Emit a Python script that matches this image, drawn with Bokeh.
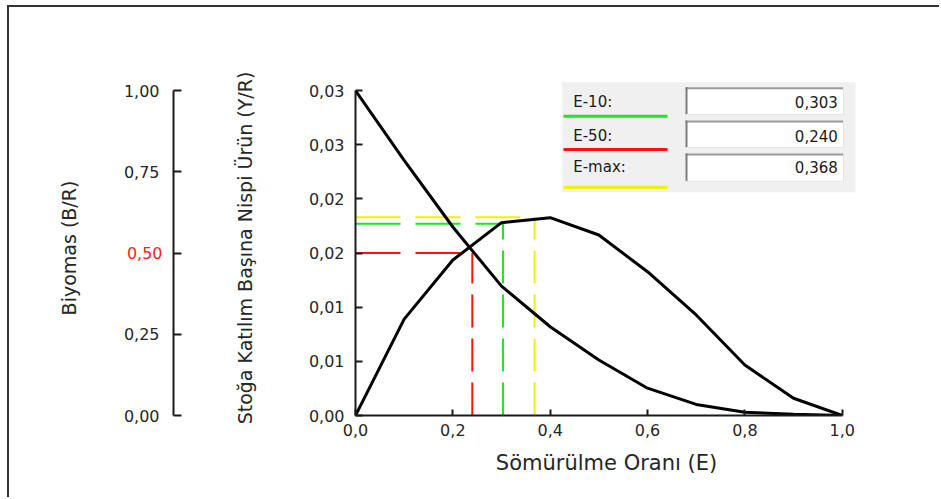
from bokeh.plotting import figure
from bokeh.models import (Range1d, LinearAxis, FixedTicker, CustomJSTickFormatter,
                          Label, BoxAnnotation)
from bokeh.core.properties import value
from bokeh.embed import file_html
from bokeh.resources import INLINE

# ---------------- data ----------------
e_grid = [0.0, 0.1, 0.2, 0.3, 0.4, 0.5, 0.6, 0.7, 0.8, 0.9, 1.0]
yr_values = [0.0, 0.0089, 0.01435, 0.0178, 0.01826, 0.01666, 0.01327, 0.00928, 0.00466, 0.00159, 0.0]
br_values = [1.0, 0.785, 0.58, 0.398, 0.273, 0.171, 0.084, 0.034, 0.010, 0.004, 0.0]

ref_names = ["E-10:", "E-50:", "E-max:"]
ref_e = [0.303, 0.240, 0.368]
ref_texts = ["0,303", "0,240", "0,368"]
ref_colors = ["#1fe41f", "#ff1010", "#f2f200"]
yr_at_e10 = 0.0177
yr_at_emax = 0.0183
br_at_e50 = 0.5

x_ticks = [0.0, 0.2, 0.4, 0.6, 0.8, 1.0]
x_tick_labels = ["0,0", "0,2", "0,4", "0,6", "0,8", "1,0"]
yr_ticks = [0.0, 0.005, 0.01, 0.015, 0.02, 0.025, 0.03]
yr_tick_labels = ["0,00", "0,01", "0,01", "0,02", "0,02", "0,03", "0,03"]
br_ticks = [0.0, 0.25, 0.5, 0.75, 1.0]
br_tick_labels = ["0,00", "0,25", "0,50", "0,75", "1,00"]
br_highlight = 0.5

x_title = "Sömürülme Oranı (E)"
yr_title = "Stoğa Katılım Başına Nispi Ürün (Y/R)"
br_title = "Biyomas (B/R)"

# ---------------- layout (page pixels) ----------------
OX, OY = 9, 7                      # canvas origin on the page (after css border)
FRAME_L, FRAME_R, FRAME_T, FRAME_B = 355, 857, 80, 415
PX_PER_E = 486.7
PX_PER_YR = 325 / 0.03
YR_TOP = 0.03

W, H = 941 - OX, 499 - OY
x_end = (FRAME_R - FRAME_L) / PX_PER_E
y_end = (FRAME_B - FRAME_T) / PX_PER_YR
br_end = y_end / YR_TOP


def ex(px):
    return (px - FRAME_L) / PX_PER_E


def ey(py):
    return (FRAME_B - py) / PX_PER_YR


FONT = "DejaVu Sans"
TXT = "#262626"


def fmt(tick_values, tick_texts):
    return CustomJSTickFormatter(
        args=dict(tv=tick_values, tl=tick_texts),
        code="""
        for (let i = 0; i < tv.length; i++) {
            if (Math.abs(tv[i] - tick) < 1e-9) return tl[i];
        }
        return "";
        """)


p = figure(width=W, height=H, x_range=Range1d(0, x_end), y_range=Range1d(0, y_end),
           output_backend="svg", toolbar_location=None,
           min_border_left=FRAME_L - OX, min_border_right=W - (FRAME_R - OX),
           min_border_top=FRAME_T - OY, min_border_bottom=H - (FRAME_B - OY),
           background_fill_color="white", border_fill_color="white",
           outline_line_color=None,
           styles={"margin-left": "7px", "margin-top": "5px",
                   "border-left": "2px solid #333333", "border-top": "2px solid #333333"})
p.grid.visible = False
p.extra_y_ranges = {"bio": Range1d(0, br_end)}

# x axis
xa = p.xaxis[0]
xa.ticker = FixedTicker(ticks=x_ticks)
xa.formatter = fmt(x_ticks, x_tick_labels)
xa.bounds = (0, 1)
xa.axis_label = x_title

# Y/R axis (default, innermost)
ya = p.yaxis[0]
ya.ticker = FixedTicker(ticks=yr_ticks)
ya.formatter = fmt(yr_ticks, yr_tick_labels)
ya.bounds = (0, YR_TOP)
ya.axis_label = yr_title

# invisible spacer between the two left axes (white label, no line)
spacer = LinearAxis(y_range_name="bio", ticker=FixedTicker(ticks=[0.1]),
                    formatter=fmt([0.1], ["0,00"]),
                    axis_line_color=None, major_tick_in=0, major_tick_out=0,
                    minor_tick_in=0, minor_tick_out=0, major_tick_line_color=None,
                    major_label_text_color="white", major_label_text_font=FONT,
                    major_label_text_font_size="16px", major_label_standoff=18)
p.add_layout(spacer, "left")

# Biomass axis (the highlighted 0,50 label is drawn in red separately)
hi_label = br_tick_labels[br_ticks.index(br_highlight)]
bio_axis_labels = ["" if t == br_highlight else s for t, s in zip(br_ticks, br_tick_labels)]
ba = LinearAxis(y_range_name="bio", ticker=FixedTicker(ticks=br_ticks),
                formatter=fmt(br_ticks, bio_axis_labels), bounds=(0, 1),
                axis_label=br_title)
p.add_layout(ba, "left")

for ax in [xa, ya, ba]:
    ax.axis_line_color = "#1a1a1a"
    ax.axis_line_width = 2
    ax.major_tick_line_color = "#1a1a1a"
    ax.major_tick_line_width = 2
    ax.major_tick_out = 0
    ax.minor_tick_in = 0
    ax.minor_tick_out = 0
    ax.major_label_text_font = FONT
    ax.major_label_text_font_size = "16px"
    ax.major_label_text_color = TXT
    ax.axis_label_text_font = FONT
    ax.axis_label_text_font_style = "normal"
    ax.axis_label_text_color = TXT

xa.major_tick_in = 6
xa.major_label_standoff = 8
xa.axis_label_standoff = 12
xa.axis_label_text_font_size = "21px"

ya.major_tick_in = 7
ya.major_label_standoff = 11
ya.axis_label_standoff = 50
ya.axis_label_text_font_size = "19px"

ba.major_tick_in = 8
ba.major_label_standoff = 14
ba.axis_label_standoff = 41
ba.axis_label_text_font_size = "19px"

# red label and red tick for 0,50 of the biomass axis, in the left side panel
p.add_layout(Label(x=ex(162), y=br_highlight, y_range_name="bio", text=hi_label,
                   text_align="right", text_baseline="middle", text_color="#ff2020",
                   text_font=FONT, text_font_size="16px"), "left")
px_bio = 1.0 / 325
p.add_layout(BoxAnnotation(left=ex(176), right=ex(185),
                           bottom=br_highlight - px_bio, top=br_highlight + px_bio,
                           y_range_name="bio", fill_color="#ff1010", fill_alpha=1.0,
                           line_color=None), "left")

# ---------------- reference lines ----------------
HD, VD = "45 15", "33 11"
# E-10 (green) on Y/R scale
p.line([0, ref_e[0]], [yr_at_e10, yr_at_e10], line_color=ref_colors[0], line_width=2, line_dash=HD)
p.line([ref_e[0], ref_e[0]], [0, yr_at_e10], line_color=ref_colors[0], line_width=2, line_dash=VD)
# E-50 (red) on biomass scale
p.line([0, ref_e[1]], [br_at_e50, br_at_e50], line_color=ref_colors[1], line_width=2,
       line_dash=HD, y_range_name="bio")
p.line([ref_e[1], ref_e[1]], [0, br_at_e50], line_color=ref_colors[1], line_width=2,
       line_dash=VD, y_range_name="bio")
# E-max (yellow) on Y/R scale
p.line([0, ref_e[2]], [yr_at_emax, yr_at_emax], line_color=ref_colors[2], line_width=2, line_dash=HD)
p.line([ref_e[2], ref_e[2]], [0, yr_at_emax], line_color=ref_colors[2], line_width=2, line_dash=VD)

# ---------------- curves ----------------
p.line(e_grid, yr_values, line_color="black", line_width=3)
p.line(e_grid, br_values, line_color="black", line_width=3, y_range_name="bio")

# ---------------- value panel ----------------
panel_l, panel_r, panel_t, panel_b = 561.7, 855, 81.7, 191.7
p.quad(left=ex(panel_l), right=ex(panel_r), top=ey(panel_t), bottom=ey(panel_b),
       fill_color="#f0f0f0", line_color=None)
box_l, box_r = 685, 843
box_rows = [(86.7, 114), (120, 147), (153, 180.7)]
under_y = [115.7, 149, 186.7]
text_y = [101.7, 135, 166.8]
for i, (bt, bb) in enumerate(box_rows):
    p.quad(left=ex(box_l), right=ex(box_r), top=ey(bt), bottom=ey(bb),
           fill_color="white", line_color=None)
    p.line([ex(box_l), ex(box_r)], [ey(bt + 1), ey(bt + 1)], line_color="#9a9a9a", line_width=2)
    p.line([ex(box_l + 1), ex(box_l + 1)], [ey(bt), ey(bb)], line_color="#7a7a7a", line_width=2)
    p.line([ex(box_l), ex(box_r)], [ey(bb), ey(bb)], line_color="#e4e4e4", line_width=1)
    p.line([ex(box_r), ex(box_r)], [ey(bt), ey(bb)], line_color="#e4e4e4", line_width=1)
    p.line([ex(563), ex(667)], [ey(under_y[i]), ey(under_y[i])], line_color=ref_colors[i],
           line_width=3)
    p.text(x=[ex(572.7)], y=[ey(text_y[i])], text=[ref_names[i]], text_align="left",
           text_baseline="middle", text_font=value(FONT), text_font_size="15px",
           text_color="#1a1a1a")
    p.text(x=[ex(837.3)], y=[ey(text_y[i])], text=[ref_texts[i]], text_align="right",
           text_baseline="middle", text_font=value(FONT), text_font_size="15px",
           text_color="#1a1a1a")

open("out.html", "w").write(file_html(p, INLINE))
